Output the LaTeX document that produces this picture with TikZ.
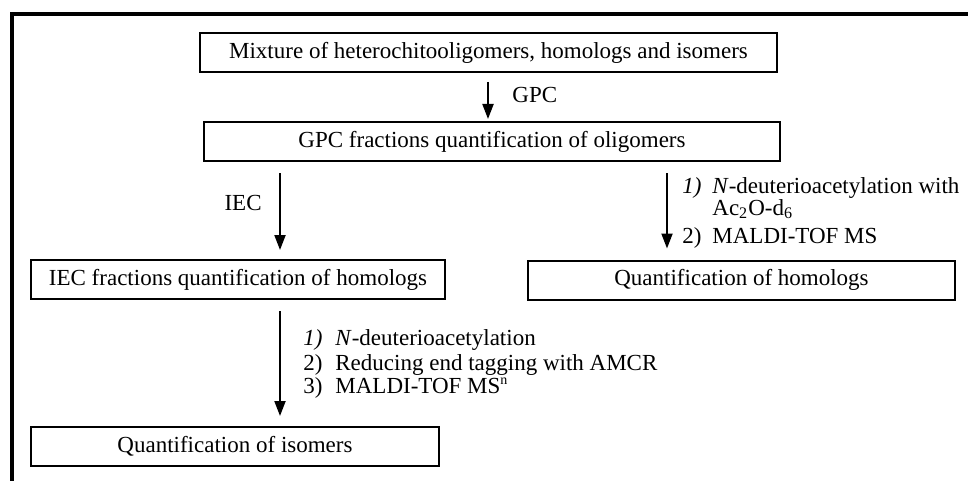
\documentclass[tikz,border=0pt]{standalone}
\usepackage{fontspec}
\setmainfont{Liberation Serif}
\usetikzlibrary{arrows.meta}
\tikzset{
  box/.style={draw, line width=1pt, inner sep=0pt, minimum height=19.5pt, font=\fontsize{11.5}{13.5}\selectfont},
  arr/.style={line width=1pt, -{Triangle[length=7.5pt,width=5.5pt]}},
  lbl/.style={inner sep=0pt, anchor=base west, font=\fontsize{11.5}{13.5}\selectfont},
}
\begin{document}
\begin{tikzpicture}[x=0.5pt,y=-0.5pt]
\useasboundingbox (0,0) rectangle (968,481);
\draw[line width=1.75pt] (12,481) -- (12,14) -- (968,14);

\node[box, minimum width=288.5pt] (b1) at (488.5,52.5) {Mixture of heterochitooligomers, homologs and isomers};
\node[box, minimum width=288pt] (b2) at (492,141.5) {GPC fractions quantification of oligomers};
\node[box, minimum width=207pt] (b3) at (238,279.5) {IEC fractions quantification of homologs};
\node[box, minimum width=213.5pt] (b4) at (741.5,280) {Quantification of homologs};
\node[box, minimum width=204pt] (b5) at (235,446.5) {Quantification of isomers};

\coordinate (xg) at (488,0);
\coordinate (xi) at (280,0);
\coordinate (xr) at (667,0);

\draw[arr, shorten <=4.5pt, shorten >=1pt] (b1.south -| xg) -- (b2.north -| xg);
\draw[arr, shorten <=5.5pt, shorten >=4.5pt] (b2.south -| xi) -- (b3.north -| xi);
\draw[arr, shorten <=5.5pt, shorten >=5.5pt] (b2.south -| xr) -- (b4.north -| xr);
\draw[arr, shorten <=5.5pt, shorten >=5pt] (b3.south -| xi) -- (b5.north -| xi);

\node[lbl] (gpc) at (512,103) {GPC};
\node[lbl, anchor=base east] (iec) at (262,210) {IEC};

\node[lbl] (r1n) at (682,193) {\textit{1)}};
\node[lbl] (r1t) at (712,193) {\textit{N}-deuterioacetylation with};
\node[lbl] (r1u) at (712,215) {Ac\textsubscript{2}O-d\textsubscript{6}};
\node[lbl] (r2n) at (682,243) {2)};
\node[lbl] (r2t) at (712,243) {MALDI-TOF MS};

\node[lbl] (s1n) at (303,345) {\textit{1)}};
\node[lbl] (s1t) at (335,345) {\textit{N}-deuterioacetylation};
\node[lbl] (s2n) at (303,370) {2)};
\node[lbl] (s2t) at (335,370) {Reducing end tagging with AMCR};
\node[lbl] (s3n) at (303,393) {3)};
\node[lbl] (s3t) at (335,393) {MALDI-TOF MS\textsuperscript{\scriptsize n}};
\end{tikzpicture}
\end{document}
